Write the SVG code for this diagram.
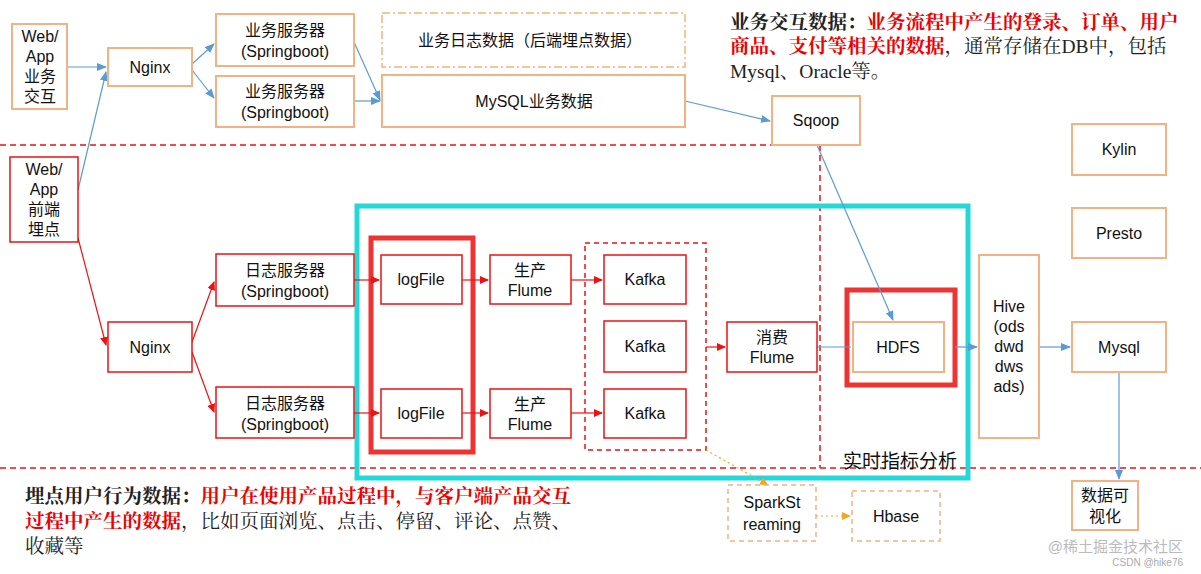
<svg xmlns="http://www.w3.org/2000/svg" width="1201" height="574" viewBox="0 0 1201 574">
<style>
.o{fill:#fff;stroke:#f4b183;stroke-width:2}
.r{fill:#fff;stroke:#ee1111;stroke-width:1.5}
.od{fill:#fff;stroke:#f4b183;stroke-width:1.5;stroke-dasharray:5 4}
.t{font-family:"Liberation Sans","Noto Sans CJK SC",sans-serif;font-size:16px;fill:#111;text-anchor:middle}
.s{font-family:"Liberation Serif","Noto Serif CJK SC","Noto Sans CJK SC",serif;font-size:19.5px;fill:#222}
.b{fill:none;stroke:#5b9bd5;stroke-width:1.2}
.rl{fill:none;stroke:#ee1111;stroke-width:1.2}
</style>
<defs>
<marker id="ab" markerWidth="10" markerHeight="8" refX="9" refY="4" orient="auto" markerUnits="userSpaceOnUse"><path d="M0,0L10,4L0,8z" fill="#5b9bd5"/></marker>
<marker id="ar" markerWidth="9" markerHeight="8" refX="8" refY="4" orient="auto" markerUnits="userSpaceOnUse"><path d="M0,0L9,4L0,8z" fill="#ee1111"/></marker>
<marker id="ao" markerWidth="9" markerHeight="8" refX="8" refY="4" orient="auto" markerUnits="userSpaceOnUse"><path d="M0,0L9,4L0,8z" fill="#f5a623"/></marker>
</defs>
<rect width="1201" height="574" fill="#fff"/>
<g id="regions" fill="none">
<path d="M0,145H820V468" stroke="#ee1111" stroke-width="1.5" stroke-dasharray="6 4"/>
<path d="M0,468H1201" stroke="#ee1111" stroke-width="1.5" stroke-dasharray="6 4"/>
<rect x="357" y="206" width="611" height="272" stroke="#22d8d8" stroke-width="5"/>
<rect x="371" y="238" width="102" height="214" stroke="#ee3333" stroke-width="5"/>
<rect x="585" y="243" width="121" height="207" stroke="#ee1111" stroke-width="1.5" stroke-dasharray="5 4"/>
<rect x="847" y="290" width="108" height="95" stroke="#ee3333" stroke-width="5"/>
<text x="900" y="468" class="t" style="font-size:19px">实时指标分析</text>
</g>
<g id="connectors">
<path class="b" d="M67,67H106" marker-end="url(#ab)"/>
<path class="b" d="M78,190L106,72" marker-end="url(#ab)"/>
<path class="b" d="M192,64L214,44" marker-end="url(#ab)"/>
<path class="b" d="M192,70L214,98" marker-end="url(#ab)"/>
<path class="b" d="M354,42L380,100" marker-end="url(#ab)"/>
<path class="b" d="M354,101H380" marker-end="url(#ab)"/>
<path class="b" d="M685,101L770,121" marker-end="url(#ab)"/>
<path class="b" d="M817,145L893,320" marker-end="url(#ab)"/>
<path class="b" d="M817,347H851" stroke="#7a9cc0"/>
<path class="b" d="M955,347H977" marker-end="url(#ab)"/>
<path class="b" d="M1039,347H1070" marker-end="url(#ab)"/>
<path class="b" d="M1119,372V479" marker-end="url(#ab)"/>
<path class="rl" d="M78,238L106,345" marker-end="url(#ar)"/>
<path class="rl" d="M192,342L214,282" marker-end="url(#ar)"/>
<path class="rl" d="M192,352L214,412" marker-end="url(#ar)"/>
<path class="rl" d="M354,280H379" marker-end="url(#ar)"/>
<path class="rl" d="M354,413H379" marker-end="url(#ar)"/>
<path class="rl" d="M462,280H488" marker-end="url(#ar)"/>
<path class="rl" d="M462,413H488" marker-end="url(#ar)"/>
<path class="rl" d="M571,280H602" marker-end="url(#ar)"/>
<path class="rl" d="M571,413H602" marker-end="url(#ar)"/>
<path class="rl" d="M706,347H725" marker-end="url(#ar)"/>
<path d="M706,450L768,485" fill="none" stroke="#f5a623" stroke-width="1.2" stroke-dasharray="2 3" marker-end="url(#ao)"/>
<path d="M816,516H850" fill="none" stroke="#f5a623" stroke-width="1.2" stroke-dasharray="2 3" marker-end="url(#ao)"/>
</g>
<g id="n1"><rect class="o" x="12" y="24" width="55" height="85"/><text class="t" x="40" y="42">Web/</text><text class="t" x="40" y="62">App</text><text class="t" x="40" y="82">业务</text><text class="t" x="40" y="102">交互</text></g>
<g id="n2"><rect class="o" x="108" y="48" width="84" height="38"/><text class="t" x="150" y="73">Nginx</text></g>
<g id="n3"><rect class="o" x="216" y="14" width="138" height="52"/><text class="t" x="285" y="36">业务服务器</text><text class="t" x="285" y="57">(Springboot)</text></g>
<g id="n4"><rect class="o" x="216" y="76" width="138" height="51"/><text class="t" x="285" y="97">业务服务器</text><text class="t" x="285" y="118">(Springboot)</text></g>
<g id="n5"><rect x="382" y="13" width="303" height="54" fill="#fff" stroke="#f4b183" stroke-width="1.5" stroke-dasharray="8 3 2 3"/><text class="t" x="530" y="46">业务日志数据（后端埋点数据）</text></g>
<g id="n6"><rect class="o" x="382" y="75" width="303" height="52"/><text class="t" x="534" y="107">MySQL业务数据</text></g>
<g id="n7"><rect class="o" x="772" y="96" width="88" height="49"/><text class="t" x="816" y="126">Sqoop</text></g>
<g id="n8"><rect class="o" x="1072" y="124" width="94" height="51"/><text class="t" x="1119" y="155">Kylin</text></g>
<g id="n9"><rect class="o" x="1072" y="208" width="94" height="50"/><text class="t" x="1119" y="239">Presto</text></g>
<g id="n10"><rect class="r" x="10" y="157" width="68" height="85"/><text class="t" x="44" y="175">Web/</text><text class="t" x="44" y="195">App</text><text class="t" x="44" y="215">前端</text><text class="t" x="44" y="235">埋点</text></g>
<g id="n11"><rect class="r" x="108" y="322" width="84" height="50"/><text class="t" x="150" y="353">Nginx</text></g>
<g id="n12"><rect class="r" x="216" y="254" width="138" height="52"/><text class="t" x="285" y="276">日志服务器</text><text class="t" x="285" y="297">(Springboot)</text></g>
<g id="n13"><rect class="r" x="216" y="387" width="138" height="51"/><text class="t" x="285" y="409">日志服务器</text><text class="t" x="285" y="430">(Springboot)</text></g>
<g id="n14"><rect class="r" x="381" y="255" width="81" height="49"/><text class="t" x="421" y="285">logFile</text></g>
<g id="n15"><rect class="r" x="381" y="389" width="81" height="49"/><text class="t" x="421" y="419">logFile</text></g>
<g id="n16"><rect class="r" x="490" y="255" width="81" height="49"/><text class="t" x="530" y="276">生产</text><text class="t" x="530" y="296">Flume</text></g>
<g id="n17"><rect class="r" x="490" y="389" width="81" height="49"/><text class="t" x="530" y="410">生产</text><text class="t" x="530" y="430">Flume</text></g>
<g id="n18"><rect class="r" x="604" y="255" width="82" height="49"/><text class="t" x="645" y="285">Kafka</text></g>
<g id="n19"><rect class="r" x="604" y="321" width="82" height="51"/><text class="t" x="645" y="352">Kafka</text></g>
<g id="n20"><rect class="r" x="604" y="389" width="82" height="49"/><text class="t" x="645" y="419">Kafka</text></g>
<g id="n21"><rect class="r" x="727" y="322" width="90" height="50"/><text class="t" x="772" y="343">消费</text><text class="t" x="772" y="363">Flume</text></g>
<g id="n22"><rect class="o" x="853" y="322" width="91" height="50"/><text class="t" x="898" y="353">HDFS</text></g>
<g id="n23"><rect class="o" x="979" y="255" width="60" height="183"/><text class="t" x="1009" y="312">Hive</text><text class="t" x="1009" y="332">(ods</text><text class="t" x="1009" y="352">dwd</text><text class="t" x="1009" y="372">dws</text><text class="t" x="1009" y="392">ads)</text></g>
<g id="n24"><rect class="o" x="1072" y="322" width="94" height="50"/><text class="t" x="1119" y="353">Mysql</text></g>
<g id="n25"><rect class="o" x="1072" y="481" width="66" height="49"/><text class="t" x="1105" y="501">数据可</text><text class="t" x="1105" y="522">视化</text></g>
<g id="n26"><rect class="od" x="728" y="485" width="88" height="56"/><text class="t" x="772" y="508">SparkSt</text><text class="t" x="772" y="530">reaming</text></g>
<g id="n27"><rect class="od" x="852" y="491" width="88" height="50"/><text class="t" x="896" y="522">Hbase</text></g>
<g id="notes">
<text class="s" x="730" y="29"><tspan font-weight="bold">业务交互数据：</tspan><tspan font-weight="bold" fill="#ee0000">业务流程中产生的登录、订单、用户</tspan></text>
<text class="s" x="730" y="53"><tspan font-weight="bold" fill="#ee0000">商品、支付等相关的数据</tspan>，通常存储在DB中，包括</text>
<text class="s" x="730" y="78">Mysql、Oracle等。</text>
<text class="s" x="25" y="503"><tspan font-weight="bold">埋点用户行为数据：</tspan><tspan font-weight="bold" fill="#ee0000">用户在使用产品过程中，与客户端产品交互</tspan></text>
<text class="s" x="25" y="528"><tspan font-weight="bold" fill="#ee0000">过程中产生的数据</tspan>，比如页面浏览、点击、停留、评论、点赞、</text>
<text class="s" x="25" y="553">收藏等</text>
<text x="1183" y="552" text-anchor="end" font-family="'Liberation Sans','Noto Sans CJK SC',sans-serif" font-size="15" fill="#bbb">@稀土掘金技术社区</text>
<text x="1183" y="566" text-anchor="end" font-family="'Liberation Sans',sans-serif" font-size="10" fill="#aaa">CSDN @hike76</text>
</g>
</svg>
